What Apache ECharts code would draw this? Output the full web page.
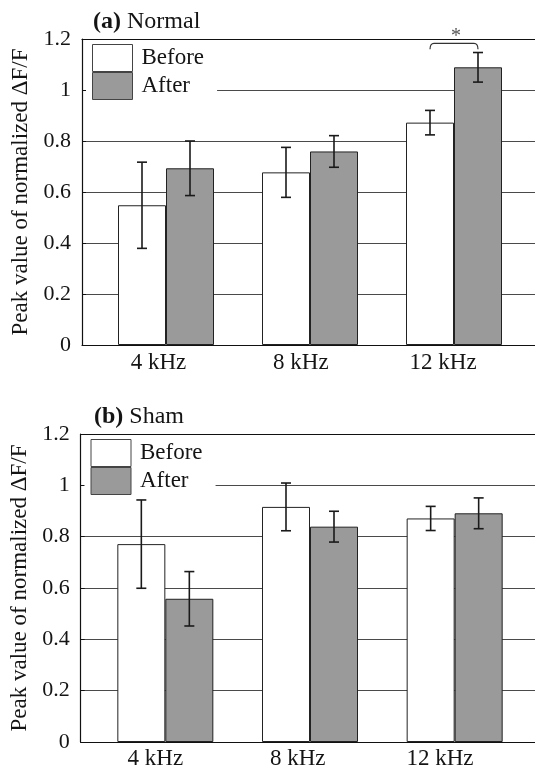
<!DOCTYPE html>
<html><head><meta charset="utf-8">
<script src="https://cdn.jsdelivr.net/npm/echarts@6/dist/echarts.min.js"></script>
<style>html,body{margin:0;padding:0;background:#fff}#c{width:535px;height:770px}</style>
</head><body><div id="c"></div>
<script>
// ---- data ----
const categories = ['4 kHz', '8 kHz', '12 kHz'];
const seriesNames = ['Before', 'After'];
const yMin = 0, yMax = 1.2, yInterval = 0.2;
const yAxisName = 'Peak value of normalized \u0394F/F';
const panelTitles = [['(a)', 'Normal'], ['(b)', 'Sham']];

const normalBefore   = [0.548, 0.677, 0.872];
const normalBeforeSD = [0.169, 0.098, 0.048];
const normalAfter    = [0.693, 0.759, 1.089];
const normalAfterSD  = [0.107, 0.062, 0.058];

const shamBefore   = [0.771, 0.916, 0.871];
const shamBeforeSD = [0.172, 0.093, 0.047];
const shamAfter    = [0.558, 0.839, 0.891];
const shamAfterSD  = [0.106, 0.060, 0.060];

const normalSignificance = [[2, 1.183, '*']]; // [category index, bracket level, mark]

// ---- styling / layout ----
const SERIF = 'Liberation Serif, DejaVu Serif, serif';
const BAR_W = 48;
const TXT = '#141414';
const GRAY = '#9a9a9a';
const EDGE = '#222';

const panels = [
  { before: normalBefore, beforeSD: normalBeforeSD, after: normalAfter, afterSD: normalAfterSD,
    sig: normalSignificance,
    frame: {left: 82, top: 39, height: 306}, bars: {left: 94, width: 432}, labels: {left: 87.4, width: 426.8},
    title: {left: 93, top: 8}, legend: {left: 86, top: 41} },
  { before: shamBefore, beforeSD: shamBeforeSD, after: shamAfter, afterSD: shamAfterSD,
    sig: [],
    frame: {left: 80.7, top: 434, height: 308}, bars: {left: 93, width: 434}, labels: {left: 84.2, width: 427},
    title: {left: 94, top: 403}, legend: {left: 84.5, top: 436} }
];

const grid = [], xAxis = [], yAxis = [], series = [], title = [], legend = [];

function errorSeries(name, means, sds, xi, yi, side) {
  return {
    type: 'custom', name: name, xAxisIndex: xi, yAxisIndex: yi, z: 6, clip: false,
    data: means.map((m, i) => [i, m - sds[i], m + sds[i]]),
    renderItem: function (params, api) {
      const i = api.value(0);
      const lo = api.coord([i, api.value(1)]);
      const hi = api.coord([i, api.value(2)]);
      const x = lo[0] + side * BAR_W / 2;
      const cap = 5;
      const st = {stroke: '#1a1a1a', lineWidth: 1.6};
      return {type: 'group', children: [
        {type: 'line', shape: {x1: x, y1: lo[1], x2: x, y2: hi[1]}, style: st},
        {type: 'line', shape: {x1: x - cap, y1: lo[1], x2: x + cap, y2: lo[1]}, style: st},
        {type: 'line', shape: {x1: x - cap, y1: hi[1], x2: x + cap, y2: hi[1]}, style: st}
      ]};
    }
  };
}

panels.forEach((p, k) => {
  const gF = grid.length;
  grid.push({left: p.frame.left, right: 0, top: p.frame.top, height: p.frame.height});
  const gB = grid.length;
  grid.push({left: p.bars.left, width: p.bars.width, top: p.frame.top, height: p.frame.height});
  const gL = grid.length;
  grid.push({left: p.labels.left, width: p.labels.width, top: p.frame.top, height: p.frame.height});

  // frame: bottom and top lines
  xAxis.push({gridIndex: gF, type: 'value', min: 0, max: 1, position: 'bottom',
    axisLine: {show: true, onZero: false, lineStyle: {color: '#111', width: 1.2}}, axisTick: {show: false},
    axisLabel: {show: false}, splitLine: {show: false}});
  xAxis.push({gridIndex: gF, type: 'value', min: 0, max: 1, position: 'top',
    axisLine: {show: true, onZero: false, lineStyle: {color: '#111', width: 1.2}}, axisTick: {show: false},
    axisLabel: {show: false}, splitLine: {show: false}});
  const xB = xAxis.length;
  xAxis.push({gridIndex: gB, type: 'category', data: categories, show: false});
  xAxis.push({gridIndex: gL, type: 'category', data: categories,
    axisLine: {show: false}, axisTick: {show: false}, splitLine: {show: false},
    axisLabel: {fontFamily: SERIF, fontSize: 23, color: TXT, margin: 6}});

  yAxis.push({gridIndex: gF, type: 'value', min: yMin, max: yMax, interval: yInterval,
    axisLine: {show: true, onZero: false, lineStyle: {color: '#111', width: 1.2}},
    axisTick: {show: true, inside: true, length: 4, lineStyle: {color: '#111'}},
    axisLabel: {fontFamily: SERIF, fontSize: 22, color: TXT, margin: 11},
    splitLine: {show: true, lineStyle: {color: '#4a4a4a', width: 1}},
    name: yAxisName, nameLocation: 'middle', nameRotate: 90, nameGap: 47,
    nameTextStyle: {fontFamily: SERIF, fontSize: 23, color: TXT}});
  const yB = yAxis.length;
  yAxis.push({gridIndex: gB, type: 'value', min: yMin, max: yMax, show: false});
  yAxis.push({gridIndex: gL, type: 'value', min: yMin, max: yMax, show: false});

  series.push({type: 'bar', name: seriesNames[0], xAxisIndex: xB, yAxisIndex: yB,
    data: p.before, barWidth: BAR_W, barGap: '0%', z: 3,
    itemStyle: {color: '#ffffff', borderColor: EDGE, borderWidth: 1}});
  series.push({type: 'bar', name: seriesNames[1], xAxisIndex: xB, yAxisIndex: yB,
    data: p.after, barWidth: BAR_W, barGap: '0%', z: 3,
    itemStyle: {color: GRAY, borderColor: EDGE, borderWidth: 1}});

  series.push(errorSeries(seriesNames[0] + ' SD', p.before, p.beforeSD, xB, yB, -1));
  series.push(errorSeries(seriesNames[1] + ' SD', p.after, p.afterSD, xB, yB, 1));

  if (p.sig.length) {
    series.push({type: 'custom', name: 'sig', xAxisIndex: xB, yAxisIndex: yB, z: 7, clip: false,
      data: p.sig,
      renderItem: function (params, api) {
        const c = api.coord([api.value(0), api.value(1)]);
        const x1 = c[0] - BAR_W / 2, x2 = c[0] + BAR_W / 2, y = c[1], d = 6, r = 4;
        const path = 'M' + x1 + ' ' + (y + d) + ' Q' + x1 + ' ' + y + ' ' + (x1 + r) + ' ' + y +
          ' L' + (x2 - r) + ' ' + y + ' Q' + x2 + ' ' + y + ' ' + x2 + ' ' + (y + d);
        return {type: 'group', children: [
          {type: 'path', shape: {pathData: path}, style: {fill: null, stroke: '#333', lineWidth: 1.2}},
          {type: 'text', x: c[0] + 2, y: y - 7, style: {text: '*', fontFamily: SERIF, fontSize: 20,
            fill: '#555', align: 'center', verticalAlign: 'middle'}}
        ]};
      }
    });
  }

  title.push({left: p.title.left, top: p.title.top, padding: 0,
    text: '{b|' + panelTitles[k][0] + '} ' + panelTitles[k][1],
    textStyle: {fontFamily: SERIF, fontSize: 24, fontWeight: 'normal', color: TXT, lineHeight: 28,
      rich: {b: {fontFamily: SERIF, fontSize: 24, fontWeight: 'bold', color: TXT, lineHeight: 28}}}});

  legend.push({data: seriesNames, orient: 'vertical', left: p.legend.left, top: p.legend.top,
    itemGap: 0, itemWidth: 40, itemHeight: 27, icon: 'rect', selectedMode: false,
    backgroundColor: '#ffffff', padding: [3, 13, 3, 6],
    itemStyle: {borderColor: '#444', borderWidth: 1},
    textStyle: {fontFamily: SERIF, fontSize: 23, color: TXT, lineHeight: 27, padding: [0, 0, 0, 4]}});
});

const chart = echarts.init(document.getElementById('c'), null, {renderer: 'canvas'});
chart.setOption({animation: false, backgroundColor: '#fff', grid, xAxis, yAxis, series, title, legend});
</script></body></html>
